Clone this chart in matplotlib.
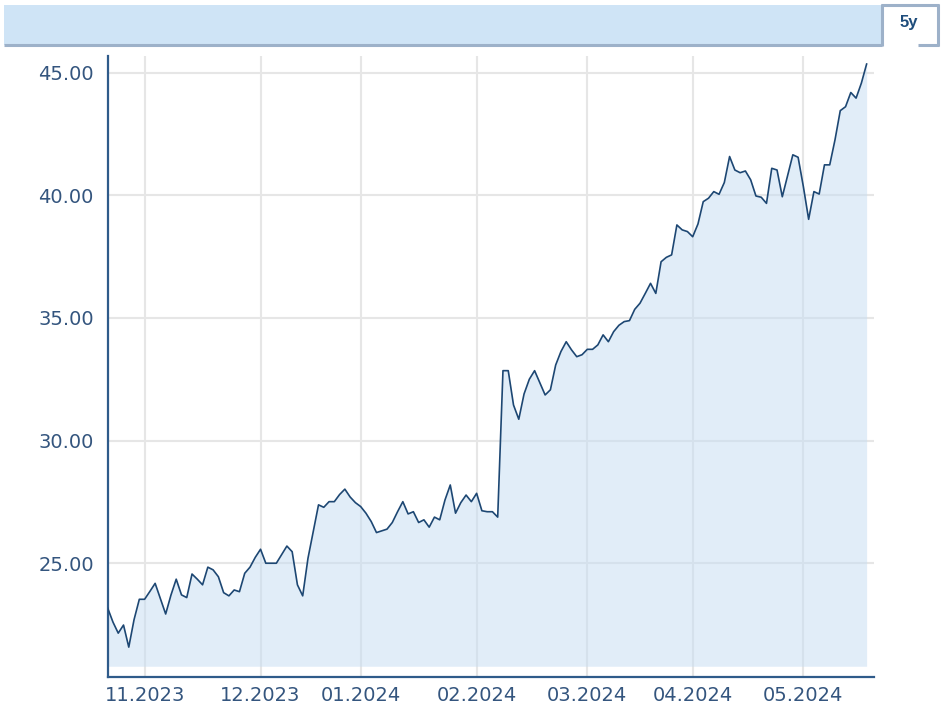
import numpy as np
import matplotlib.pyplot as plt
from matplotlib.patches import Rectangle
from matplotlib.lines import Line2D

# daily closing prices (trading days, 23.10.2023 .. 05.2024)
prices = [
    23.17, 22.60, 22.15, 22.48, 21.58, 22.70, 23.53, 23.53, 23.85, 24.18,
    23.55, 22.93, 23.70, 24.35, 23.71, 23.60, 24.56, 24.35, 24.12, 24.84,
    24.73, 24.45, 23.80, 23.67, 23.91, 23.84, 24.59, 24.84, 25.24, 25.57,
    25.00, 25.00, 25.00, 25.35, 25.70, 25.47, 24.12, 23.67, 25.20, 26.30,
    27.38, 27.28, 27.51, 27.51, 27.80, 28.02, 27.70, 27.47, 27.31, 27.04,
    26.70, 26.25, 26.32, 26.39, 26.66, 27.10, 27.51, 27.01, 27.10, 26.66,
    26.77, 26.47, 26.88, 26.77, 27.58, 28.19, 27.04, 27.47, 27.78, 27.51,
    27.85, 27.14, 27.10, 27.10, 26.88, 32.85, 32.85, 31.45, 30.87, 31.90,
    32.50, 32.85, 32.35, 31.86, 32.07, 33.08, 33.63, 34.03, 33.70, 33.42,
    33.50, 33.72, 33.72, 33.90, 34.31, 34.03, 34.44, 34.70, 34.85, 34.89,
    35.35, 35.60, 36.00, 36.41, 36.00, 37.29, 37.47, 37.57, 38.79, 38.59,
    38.52, 38.31, 38.83, 39.74, 39.88, 40.15, 40.04, 40.52, 41.58, 41.03,
    40.92, 40.99, 40.63, 39.97, 39.92, 39.67, 41.10, 41.03, 39.94, 40.79,
    41.65, 41.55, 40.35, 39.02, 40.15, 40.05, 41.24, 41.24, 42.26, 43.45,
    43.61, 44.19, 43.96, 44.57, 45.35,
]
month_labels = ['11.2023', '12.2023', '01.2024', '02.2024',
                '03.2024', '04.2024', '05.2024']
month_start_idx = [7, 29, 48, 70, 91, 111, 132]
y_ticks = [25, 30, 35, 40, 45]
fill_base = 20.8

W, H = 944, 711
txt_color = '#34557e'
axis_color = '#2f5b8a'
grid_color = '#e6e6e6'
border = '#9db1c9'

fig = plt.figure(figsize=(W / 100, H / 100), dpi=100)


def fline(xs, ys, lw=2.2):
    # line in pixel coords (origin top-left)
    fig.add_artist(Line2D([v / W for v in xs], [1 - v / H for v in ys],
                          transform=fig.transFigure, color=border, lw=lw,
                          solid_capstyle='butt'))


# top toolbar strip with the "5y" tab
fig.add_artist(Rectangle((4 / W, 1 - 45 / H), 878 / W, 40 / H,
                         transform=fig.transFigure, facecolor='#cfe4f6',
                         edgecolor='none'))
fline([4, 882], [45, 45])
fline([882, 882], [4, 46])
fline([881, 939], [5, 5])
fline([938, 938], [4, 46])
fline([918, 939], [45, 45])
fig.text(909 / W, 1 - 23 / H, '5y', ha='center', va='center',
         fontsize=12, fontweight='bold', color='#1e4d7c',
         family=['Liberation Sans Narrow', 'Liberation Sans', 'DejaVu Sans'])

ax = fig.add_axes([107.7 / W, (H - 677.3) / H,
                   (874 - 107.7) / W, (677.3 - 55.7) / H])
x = np.arange(len(prices))
ax.fill_between(x, prices, fill_base, color='#c5ddf3', alpha=0.5, lw=0, zorder=2)
ax.plot(x, prices, color='#1d4773', lw=1.2, zorder=3)

ax.set_xlim(0, 145.4)
ax.set_ylim(20.35, 45.69)
ax.set_xticks(month_start_idx)
ax.set_xticklabels(month_labels)
ax.set_yticks(y_ticks)
ax.set_yticklabels(['%.2f' % v for v in y_ticks])
ax.tick_params(axis='both', length=0, labelsize=14, labelcolor=txt_color)
ax.tick_params(axis='y', pad=10)
ax.tick_params(axis='x', pad=6)

ax.grid(True, color=grid_color, lw=1.5, zorder=0)
ax.set_axisbelow(True)
for s in ['top', 'right']:
    ax.spines[s].set_visible(False)
for s in ['left', 'bottom']:
    ax.spines[s].set_color(axis_color)
    ax.spines[s].set_linewidth(1.6)

fig.savefig('out.png', dpi=100)
